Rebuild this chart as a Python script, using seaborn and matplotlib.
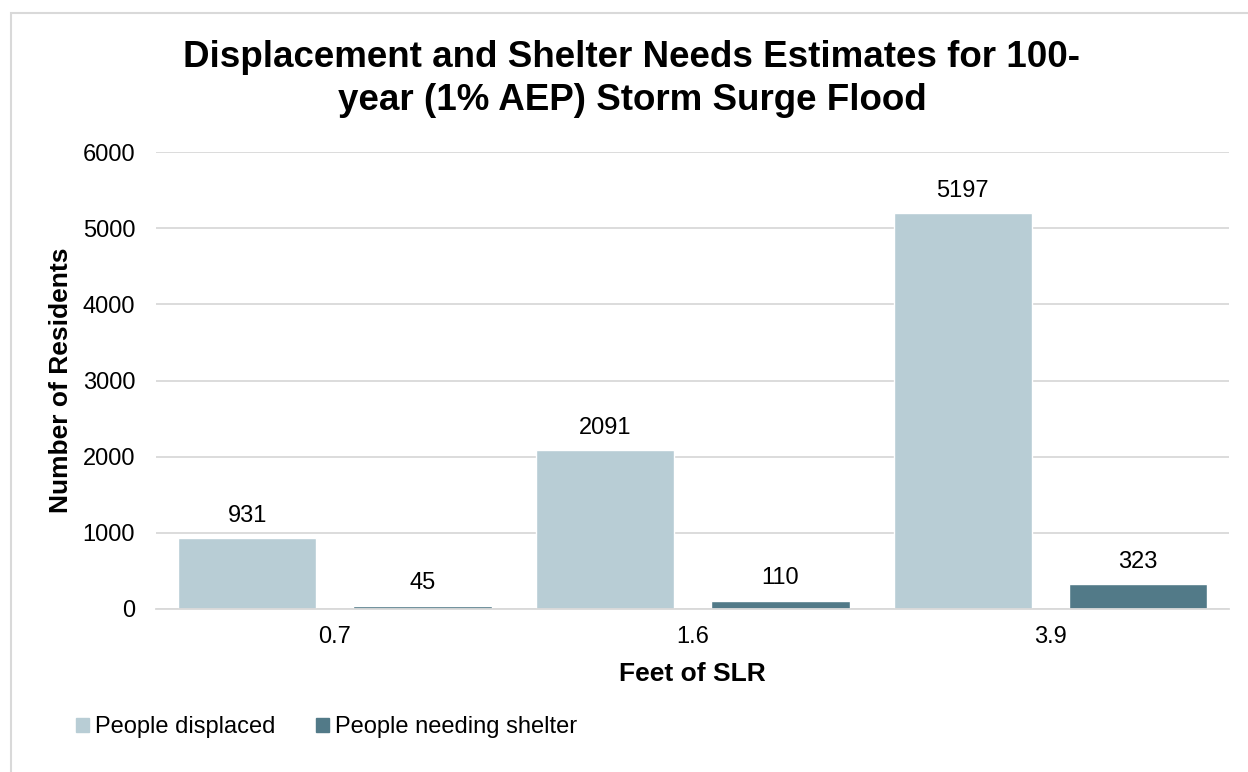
import matplotlib
matplotlib.use("Agg")
import matplotlib.pyplot as plt
import matplotlib.patches as mpatches
import pandas as pd
import seaborn as sns

slr_feet = ["0.7", "1.6", "3.9"]
people_displaced = [931, 2091, 5197]
people_shelter = [45, 110, 323]
series_names = ["People displaced", "People needing shelter"]
colors = ["#b8cdd5", "#527a88"]

df = pd.DataFrame({
    "SLR": slr_feet * 2,
    "Residents": people_displaced + people_shelter,
    "Series": [series_names[0]] * 3 + [series_names[1]] * 3,
})

sns.set_theme(style="white")
plt.rcParams['font.family'] = ['Liberation Sans', 'DejaVu Sans']
plt.rcParams['text.color'] = 'black'
plt.rcParams['axes.labelcolor'] = 'black'

fig = plt.figure(figsize=(12.48, 7.72), dpi=100)
ax = fig.add_axes([0.125, 0.2112, 0.86, 0.5918])

# outer chart frame
fig.patches.append(mpatches.Rectangle((0.0088, -0.02), 1.0, 1.0032, transform=fig.transFigure,
                                      fill=False, edgecolor="#d9d9d9", linewidth=1.5))

sns.barplot(data=df, x="SLR", y="Residents", hue="Series", ax=ax,
            palette=colors, width=0.98, gap=0.21,
            saturation=1, errorbar=None)

for cont in ax.containers:
    ax.bar_label(cont, padding=8, fontsize=17, color="black")

ax.set_ylim(0, 6000)
ax.set_yticks(range(0, 6001, 1000))
ax.set_xlim(-0.5, 2.5)
ax.yaxis.grid(True, color="#d9d9d9", linewidth=1.3)
ax.set_axisbelow(True)
for s in ["left", "right", "top"]:
    ax.spines[s].set_visible(False)
ax.spines["bottom"].set_color("#d9d9d9")
ax.spines["bottom"].set_linewidth(1.3)
ax.tick_params(axis="both", labelsize=17, colors="black", length=0)
ax.tick_params(axis="y", pad=15)
ax.tick_params(axis="x", pad=12)

ax.set_xlabel("Feet of SLR", fontsize=19, fontweight="bold", labelpad=10)
ax.set_ylabel("Number of Residents", fontsize=19, fontweight="bold", labelpad=7)

fig.text(0.5064, 1 - 67 / 772, "Displacement and Shelter Needs Estimates for 100-",
         ha="center", va="baseline", fontsize=26.5, fontweight="bold")
fig.text(0.5064, 1 - 110 / 772, "year (1% AEP) Storm Surge Flood",
         ha="center", va="baseline", fontsize=26.5, fontweight="bold")

ax.get_legend().remove()
handles = [mpatches.Patch(color=c) for c in colors]
fig.legend(handles, series_names, loc="center left", bbox_to_anchor=(0.0609, 1 - 727 / 772),
           ncol=2, frameon=False, fontsize=17, handlelength=0.55, handleheight=0.55,
           handletextpad=0.25, columnspacing=1.74, borderpad=0, borderaxespad=0)

fig.savefig("out.png", dpi=100)
